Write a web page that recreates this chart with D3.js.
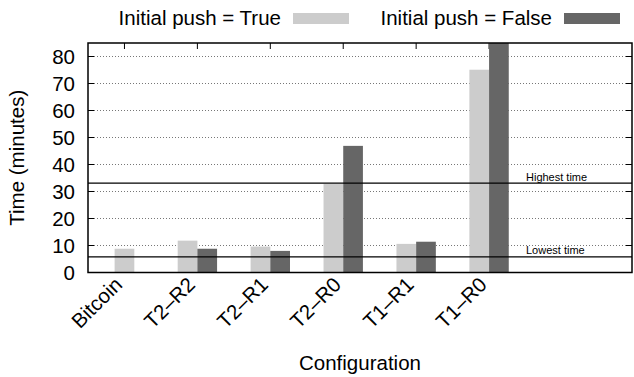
<!DOCTYPE html>
<html>
<head>
<meta charset="utf-8">
<script src="https://cdn.jsdelivr.net/npm/d3@7"></script>
<style>
  body { margin: 0; background: #fff; }
  text { font-family: "Liberation Sans", Arial, sans-serif; fill: #000; }
</style>
</head>
<body>
<svg id="chart" width="634" height="377"></svg>
<script>
// data
var categories = ["Bitcoin", "T2\u2013R2", "T2\u2013R1", "T2\u2013R0", "T1\u2013R1", "T1\u2013R0"];
var pushTrue  = [8.8, 11.8, 9.6, 32.8, 10.6, 75.1];
var pushFalse = [null, 8.8, 8.0, 46.9, 11.4, 95];
var yTicks = [0, 10, 20, 30, 40, 50, 60, 70, 80];
var refLines = [{name: "Highest time", value: 33.1}, {name: "Lowest time", value: 5.8}];
var seriesNames = ["Initial push = True", "Initial push = False"];
var colors = ["#cccccc", "#666666"];

var svg = d3.select("#chart");
var pLeft = 88, pRight = 632, pTop = 43, pBottom = 272.5;
var fs = "20.5px";

var x = d3.scaleLinear().domain([-0.5, 6.96]).range([pLeft, pRight]);
var y = d3.scaleLinear().domain([0, 85]).range([pBottom, pTop]);
var bw = 0.27; // bar width in category units

svg.append("defs").append("clipPath").attr("id", "clip")
  .append("rect").attr("x", pLeft).attr("y", pTop)
  .attr("width", pRight - pLeft).attr("height", pBottom - pTop);

// dotted grid
svg.append("g").selectAll("line")
  .data(yTicks.slice(1))
  .enter().append("line")
  .attr("x1", pLeft).attr("x2", pRight)
  .attr("y1", function(d){ return y(d); })
  .attr("y2", function(d){ return y(d); })
  .attr("stroke", "#777").attr("stroke-width", 1)
  .attr("stroke-dasharray", "1,2");

// ticks inside the frame
var tk = svg.append("g").attr("stroke", "#000").attr("stroke-width", 1);
yTicks.forEach(function(d){
  tk.append("line").attr("x1", pLeft).attr("x2", pLeft + 6).attr("y1", y(d)).attr("y2", y(d));
  tk.append("line").attr("x1", pRight).attr("x2", pRight - 6).attr("y1", y(d)).attr("y2", y(d));
});
categories.forEach(function(c, i){
  tk.append("line").attr("x1", x(i)).attr("x2", x(i)).attr("y1", pTop).attr("y2", pTop + 6);
});

// bars
var bars = svg.append("g").attr("clip-path", "url(#clip)");
bars.selectAll("rect.t")
  .data(pushTrue)
  .enter().append("rect").attr("class", "t")
  .attr("x", function(d, i){ return pushFalse[i] == null ? x(i - bw / 2) : x(i - bw); })
  .attr("width", x(bw) - x(0))
  .attr("y", function(d){ return y(d); })
  .attr("height", function(d){ return y(0) - y(d); })
  .attr("fill", colors[0]);

var falseBars = pushFalse.map(function(v, i){ return {i: i, v: v}; })
  .filter(function(d){ return d.v != null; });
bars.selectAll("rect.f")
  .data(falseBars)
  .enter().append("rect").attr("class", "f")
  .attr("x", function(d){ return x(d.i); })
  .attr("width", x(bw) - x(0))
  .attr("y", function(d){ return y(d.v); })
  .attr("height", function(d){ return y(0) - y(d.v); })
  .attr("fill", colors[1]);

// reference lines
var refs = svg.append("g");
refs.selectAll("line")
  .data(refLines)
  .enter().append("line")
  .attr("x1", pLeft).attr("x2", pRight)
  .attr("y1", function(d){ return y(d.value); })
  .attr("y2", function(d){ return y(d.value); })
  .attr("stroke", "#000").attr("stroke-width", 1.3);
refs.selectAll("text")
  .data(refLines)
  .enter().append("text")
  .attr("x", 526)
  .attr("y", function(d){ return y(d.value) - 2.5; })
  .style("font-size", "11px")
  .text(function(d){ return d.name; });

// frame
svg.append("rect")
  .attr("x", pLeft).attr("y", pTop)
  .attr("width", pRight - pLeft).attr("height", pBottom - pTop)
  .attr("fill", "none").attr("stroke", "#000").attr("stroke-width", 1.5);

// y tick labels
svg.append("g").selectAll("text")
  .data(yTicks)
  .enter().append("text")
  .attr("x", 75)
  .attr("y", function(d){ return y(d) + 7; })
  .attr("text-anchor", "end")
  .style("font-size", fs)
  .text(function(d){ return d; });

// x tick labels
svg.append("g").selectAll("text")
  .data(categories)
  .enter().append("text")
  .attr("transform", function(d, i){ return "translate(" + (x(i) - 1) + "," + 286 + ") rotate(-45)"; })
  .attr("text-anchor", "end")
  .style("font-size", fs)
  .text(function(d){ return d; });

// axis titles
svg.append("text")
  .attr("transform", "translate(24," + ((pTop + pBottom) / 2) + ") rotate(-90)")
  .attr("text-anchor", "middle")
  .style("font-size", fs)
  .text("Time (minutes)");

svg.append("text")
  .attr("x", (pLeft + pRight) / 2).attr("y", 370)
  .attr("text-anchor", "middle")
  .style("font-size", fs)
  .text("Configuration");

// legend
var legendTextEnd = [281, 552];
var legendSwatch = [293, 564];
var lg = svg.append("g");
seriesNames.forEach(function(s, i){
  lg.append("text")
    .attr("x", legendTextEnd[i]).attr("y", 25)
    .attr("text-anchor", "end")
    .style("font-size", fs)
    .text(s);
  lg.append("rect")
    .attr("x", legendSwatch[i]).attr("y", 13)
    .attr("width", 56).attr("height", 11)
    .attr("fill", colors[i]);
});
</script>
</body>
</html>
